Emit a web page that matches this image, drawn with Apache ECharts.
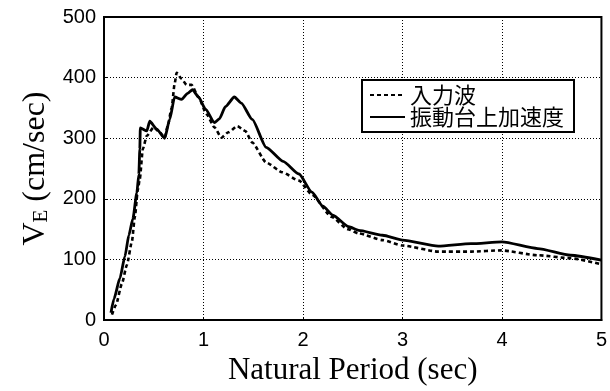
<!DOCTYPE html>
<html>
<head>
<meta charset="utf-8">
<script src="https://cdn.jsdelivr.net/npm/echarts@6/dist/echarts.min.js"></script>
<style>
  html, body { margin: 0; padding: 0; background: #fff; }
  #chart { width: 610px; height: 391px; }
</style>
</head>
<body>
<div id="chart"></div>
<script>
// Velocity response spectra: input wave vs. shaking-table acceleration
const seriesNames = ['入力波', '振動台上加速度'];

// 入力波 (dashed)
const inputPeriod = [0.08, 0.12, 0.18, 0.23, 0.28, 0.31, 0.34, 0.36, 0.39, 0.43, 0.5, 0.56, 0.61, 0.64, 0.68, 0.71, 0.73, 0.78, 0.83, 0.88, 0.95, 1.03, 1.11, 1.18, 1.25, 1.34, 1.42, 1.49, 1.63, 1.79, 1.96, 2.09, 2.29, 2.45, 2.56, 2.8, 3.0, 3.36, 3.69, 3.99, 4.36, 4.69, 5.0];
const inputVE =     [9, 25, 60, 91, 129, 170, 215, 233, 282, 304, 318, 310, 301, 320, 350, 390, 408, 398, 388, 388, 368, 340, 318, 301, 310, 320, 312, 293, 260, 244, 230, 207, 170, 150, 143, 132, 123, 113, 113, 115, 107, 102, 92];

// 振動台上加速度 (solid)
const tablePeriod = [0.07, 0.1, 0.16, 0.21, 0.25, 0.29, 0.33, 0.35, 0.36, 0.365, 0.43, 0.46, 0.53, 0.61, 0.66, 0.71, 0.78, 0.84, 0.89, 0.95, 1.02, 1.11, 1.16, 1.22, 1.31, 1.38, 1.49, 1.63, 1.8, 1.96, 2.09, 2.2, 2.3, 2.46, 2.56, 2.8, 3.0, 3.36, 3.69, 4.0, 4.36, 4.69, 5.0];
const tableVE =     [12, 35, 69, 105, 140, 167, 210, 240, 282, 317, 312, 328, 315, 300, 331, 368, 364, 374, 380, 368, 348, 326, 332, 352, 368, 358, 331, 285, 262, 241, 211, 188, 173, 154, 148, 140, 132, 122, 126, 129, 118, 107, 99];

const pairs = (xs, ys) => xs.map((x, i) => [x, ys[i]]);

const chart = echarts.init(document.getElementById('chart'), null, { renderer: 'canvas' });

const gridLine = { show: true, lineStyle: { color: '#000', width: 1, type: [1, 2] } };
const tickFont = { color: '#000', fontSize: 20, fontFamily: 'Liberation Sans' };

chart.setOption({
  animation: false,
  backgroundColor: '#fff',
  grid: {
    left: 104, right: 5, top: 17, bottom: 69,
    show: true, borderColor: '#000', borderWidth: 2, backgroundColor: 'transparent'
  },
  legend: {
    orient: 'vertical',
    left: 362, top: 80,
    padding: [4, 10, 4, 7],
    itemGap: 0,
    itemWidth: 35, itemHeight: 14,
    backgroundColor: '#fff',
    borderColor: '#000', borderWidth: 2,
    // line-only keys: hide the marker symbol that line legends add
    itemStyle: { color: 'transparent', borderColor: 'transparent', borderWidth: 0, opacity: 0 },
    textStyle: { color: '#000', fontSize: 22, lineHeight: 21, fontFamily: 'Noto Sans CJK JP' },
    data: seriesNames
  },
  xAxis: {
    type: 'value', min: 0, max: 5, interval: 1,
    axisLine: { show: true, lineStyle: { color: '#000', width: 2 } },
    axisTick: { show: true, inside: true, length: 3, lineStyle: { color: '#000' } },
    axisLabel: Object.assign({ margin: 10 }, tickFont),
    splitLine: gridLine,
    name: 'Natural Period (sec)',
    nameLocation: 'middle', nameGap: 28,
    nameTextStyle: { color: '#000', fontSize: 31, fontFamily: 'Liberation Serif' }
  },
  yAxis: {
    type: 'value', min: 0, max: 500, interval: 100,
    axisLine: { show: true, lineStyle: { color: '#000', width: 2 } },
    axisTick: { show: true, inside: true, length: 3, lineStyle: { color: '#000' } },
    axisLabel: Object.assign({ margin: 8 }, tickFont),
    splitLine: gridLine,
    name: '{v|V}{s|E}{v| (cm/sec)}',
    nameLocation: 'middle', nameGap: 37,
    nameTextStyle: {
      color: '#000', fontFamily: 'Liberation Serif', fontSize: 32,
      rich: {
        v: { fontSize: 32, fontFamily: 'Liberation Serif', color: '#000' },
        s: { fontSize: 21, fontFamily: 'Liberation Serif', color: '#000', verticalAlign: 'bottom', padding: [12, 0, 0, 0] }
      }
    }
  },
  series: [
    {
      name: seriesNames[0], type: 'line', showSymbol: false, symbol: 'none',
      smooth: 0.2, smoothMonotone: 'x',
      data: pairs(inputPeriod, inputVE),
      lineStyle: { color: '#000', width: 2.6, type: [4, 3] },
      itemStyle: { color: '#000' }, z: 3
    },
    {
      name: seriesNames[1], type: 'line', showSymbol: false, symbol: 'none',
      smooth: 0.2, smoothMonotone: 'x',
      data: pairs(tablePeriod, tableVE),
      lineStyle: { color: '#000', width: 2.8, type: 'solid' },
      itemStyle: { color: '#000' }, z: 3
    }
  ]
});
</script>
</body>
</html>
